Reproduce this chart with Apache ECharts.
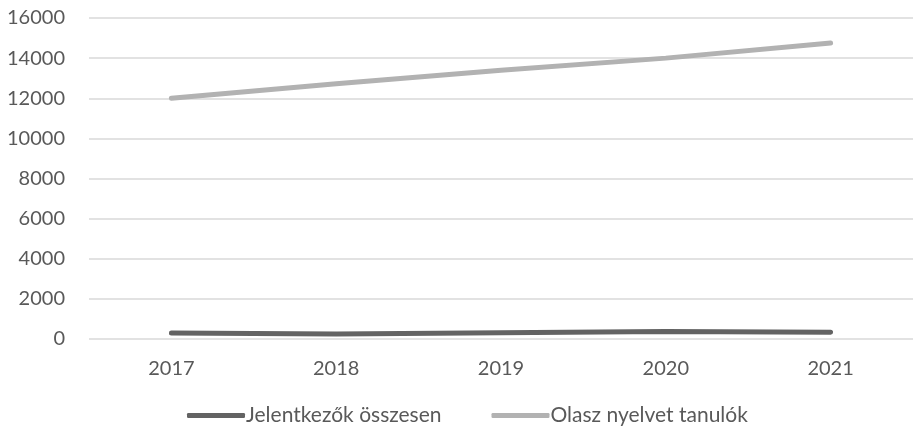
<!DOCTYPE html>
<html>
<head>
<meta charset="utf-8">
<script src="https://cdn.jsdelivr.net/npm/echarts@6/dist/echarts.min.js"></script>
<style>
  html, body { margin: 0; padding: 0; background: #fff; }
  #main { width: 913px; height: 434px; }
</style>
</head>
<body>
<div id="main"></div>
<script>
// adatok
var years = ['2017', '2018', '2019', '2020', '2021'];
var jelentkezok = [300, 250, 310, 370, 340];
var olaszTanulok = [12000, 12720, 13400, 14000, 14750];
var seriesNames = ['Jelentkezők összesen', 'Olasz nyelvet tanulók'];

var chart = echarts.init(document.getElementById('main'));
var font = 'Lato, "Open Sans", sans-serif';

var option = {
    animation: false,
    textStyle: { fontFamily: font },
    grid: {
        left: 89,
        right: -4,
        top: 18,
        bottom: 95
    },
    legend: {
        data: seriesNames,
        bottom: 3,
        left: 182,
        itemWidth: 58,
        itemHeight: 5,
        itemGap: 50,
        icon: 'roundRect',
        textStyle: { color: '#595959', fontSize: 21, fontFamily: font, padding: [0, 0, 0, -4] }
    },
    xAxis: {
        type: 'category',
        data: years,
        axisLine: { show: false },
        axisTick: { show: false },
        axisLabel: { color: '#595959', fontSize: 20, margin: 20 }
    },
    yAxis: {
        type: 'value',
        min: 0,
        max: 16000,
        interval: 2000,
        axisLine: { show: false },
        axisTick: { show: false },
        axisLabel: {
            color: '#595959',
            fontSize: 20,
            margin: 24,
            formatter: function (value) {
                return String(value);
            }
        },
        splitLine: { lineStyle: { color: '#d9d9d9', width: 1.5 } }
    },
    series: [{
        name: seriesNames[0],
        type: 'line',
        data: jelentkezok,
        symbol: 'none',
        color: '#636363',
        lineStyle: { width: 5, cap: 'round' }
    }, {
        name: seriesNames[1],
        type: 'line',
        data: olaszTanulok,
        symbol: 'none',
        color: '#b2b2b2',
        lineStyle: { width: 5, cap: 'round' }
    }]
};
chart.setOption(option);
</script>
</body>
</html>
